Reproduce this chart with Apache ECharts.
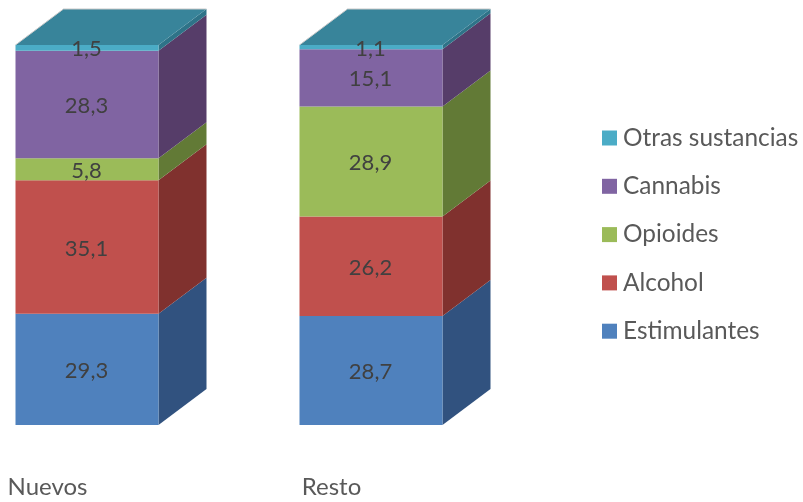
<!DOCTYPE html>
<html>
<head>
<meta charset="utf-8">
<style>html,body{margin:0;padding:0;background:#fff}#chart{width:803px;height:502px}</style>
<script src="https://cdn.jsdelivr.net/npm/echarts@6/dist/echarts.min.js"></script>
</head>
<body>
<div id="chart"></div>
<script>
// Share of admissions to treatment by substance, new patients vs. the rest
const categories = ['Nuevos', 'Resto'];
const estimulantes = [29.3, 28.7];
const alcohol = [35.1, 26.2];
const opioides = [5.8, 28.9];
const cannabis = [28.3, 15.1];
const otras = [1.5, 1.1];

const stackOrder = [
  { name: 'Estimulantes', values: estimulantes, front: '#4F81BD', side: '#31527F' },
  { name: 'Alcohol', values: alcohol, front: '#C0504D', side: '#80312E' },
  { name: 'Opioides', values: opioides, front: '#9BBB59', side: '#627A36' },
  { name: 'Cannabis', values: cannabis, front: '#8064A2', side: '#563D69' },
  { name: 'Otras sustancias', values: otras, front: '#4BACC6', side: '#2E7388' }
];
const topFace = '#38849A';

// Pseudo-3D box geometry, in pixels
const halfWidth = 71.5;
const depthX = 48;
const depthY = -36;

const fmt = v => v.toFixed(1).replace('.', ',');
const running = [0, 0];

const series = stackOrder.map((s, si) => {
  const data = s.values.map((v, i) => {
    const start = running[i];
    running[i] += v;
    return [i, start, running[i], v];
  });
  const isLast = si === stackOrder.length - 1;
  return {
    name: s.name,
    type: 'custom',
    clip: false,
    itemStyle: { color: s.front },
    data,
    encode: { x: 0, y: [1, 2] },
    renderItem(params, api) {
      const idx = api.value(0);
      const bottom = api.coord([idx, api.value(1)]);
      const top = api.coord([idx, api.value(2)]);
      const l = bottom[0] - halfWidth, r = bottom[0] + halfWidth;
      const yB = bottom[1], yT = top[1];
      const children = [
        { type: 'polygon', shape: { points: [[r, yB], [r + depthX, yB + depthY], [r + depthX, yT + depthY], [r, yT]] },
          style: { fill: s.side } },
        { type: 'rect', shape: { x: l, y: yT, width: r - l, height: yB - yT },
          style: { fill: s.front } }
      ];
      if (isLast) {
        children.push(
          { type: 'polygon', shape: { points: [[l, yT], [l + depthX, yT + depthY], [r + depthX, yT + depthY], [r, yT]] },
            style: { fill: topFace } },
          { type: 'polyline', shape: { points: [[l, yT], [l + depthX, yT + depthY], [r + depthX, yT + depthY]] },
            style: { fill: null, stroke: '#c9c9c9', lineWidth: 1 } }
        );
      }
      children.push({
        type: 'text',
        style: {
          x: bottom[0] - 0.5, y: (yB + yT) / 2 + 1.5, text: fmt(api.value(3)),
          align: 'center', verticalAlign: 'middle',
          font: '22px Lato', fill: '#404040'
        }
      });
      return { type: 'group', children };
    }
  };
});

const chart = echarts.init(document.getElementById('chart'), null, { renderer: 'canvas' });
chart.setOption({
  animation: false,
  backgroundColor: '#fff',
  grid: { left: 87, right: 432, top: 45, bottom: 77 },
  xAxis: {
    type: 'category',
    data: categories,
    boundaryGap: false,
    axisLine: { show: false },
    axisTick: { show: false },
    axisLabel: {
      color: '#595959', fontFamily: 'Lato', fontSize: 24,
      margin: 50, padding: [0, 79, 0, 0], interval: 0
    }
  },
  yAxis: { type: 'value', min: 0, max: 100, show: false },
  legend: {
    orient: 'vertical',
    left: 602,
    top: 124,
    padding: 0,
    itemWidth: 15,
    itemHeight: 15,
    itemGap: 20.3,
    icon: 'rect',
    data: stackOrder.map(s => s.name).reverse(),
    textStyle: { color: '#595959', fontFamily: 'Lato', fontSize: 24.4, padding: [0, 0, 0, 1], height: 28, lineHeight: 28 }
  },
  series
});
</script>
</body>
</html>
